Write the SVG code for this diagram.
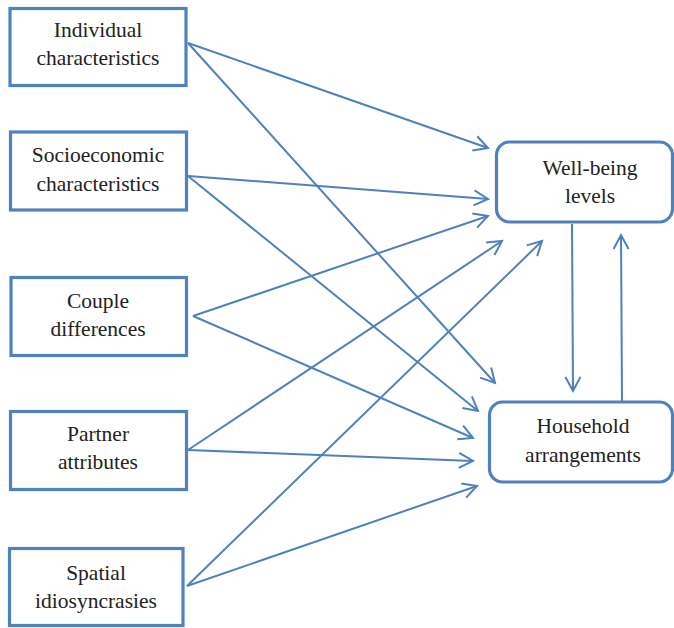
<svg xmlns="http://www.w3.org/2000/svg" width="674" height="628" viewBox="0 0 674 628">
<defs>
<style>
.box{fill:#fff;stroke:#4F81BD;stroke-width:3.2}
.t{font-family:'Liberation Serif','Times New Roman','DejaVu Serif',serif;font-size:21.5px;fill:#222;text-anchor:middle}
.c{stroke:#4F81BD;stroke-width:2;fill:none;marker-end:url(#ah)}
</style>
<marker id="ah" markerUnits="userSpaceOnUse" markerWidth="20" markerHeight="20" viewBox="-16 -10 20 20" refX="0" refY="0" orient="auto">
<path d="M-14,-7.5 L0,0 L-14,7.5" fill="none" stroke="#4F81BD" stroke-width="2"/>
</marker>
</defs>
<rect width="674" height="628" fill="#fff"/>
<g id="connectors">
<line class="c" x1="188" y1="43" x2="488" y2="148"/>
<line class="c" x1="188" y1="43" x2="495" y2="383"/>
<line class="c" x1="188" y1="176" x2="488" y2="199"/>
<line class="c" x1="188" y1="176" x2="478" y2="411"/>
<line class="c" x1="193" y1="316" x2="488" y2="216"/>
<line class="c" x1="193" y1="316" x2="473" y2="438"/>
<line class="c" x1="188" y1="450" x2="502" y2="241"/>
<line class="c" x1="188" y1="450" x2="473" y2="461"/>
<line class="c" x1="187" y1="586" x2="542" y2="241"/>
<line class="c" x1="187" y1="586" x2="477" y2="486"/>
<line class="c" x1="572" y1="224" x2="573" y2="391"/>
<line class="c" x1="622" y1="401" x2="621" y2="235"/>
</g>
<g id="individual">
<rect class="box" x="10" y="8.5" width="176" height="77"/>
<text class="t" x="98" y="37">Individual</text>
<text class="t" x="98" y="65">characteristics</text>
</g>
<g id="socioeconomic">
<rect class="box" x="10.5" y="132" width="176" height="78"/>
<text class="t" x="98" y="162">Socioeconomic</text>
<text class="t" x="98" y="191">characteristics</text>
</g>
<g id="couple">
<rect class="box" x="11" y="277.5" width="175.5" height="78"/>
<text class="t" x="98" y="308">Couple</text>
<text class="t" x="98" y="336">differences</text>
</g>
<g id="partner">
<rect class="box" x="10.5" y="411.5" width="176" height="78"/>
<text class="t" x="98" y="441">Partner</text>
<text class="t" x="98" y="469">attributes</text>
</g>
<g id="spatial">
<rect class="box" x="9.5" y="548.5" width="173.5" height="77"/>
<text class="t" x="96" y="580">Spatial</text>
<text class="t" x="96" y="608">idiosyncrasies</text>
</g>
<g id="wellbeing">
<rect class="box" x="496.5" y="142" width="176" height="80" rx="13"/>
<text class="t" x="590" y="175">Well-being</text>
<text class="t" x="590" y="203">levels</text>
</g>
<g id="household">
<rect class="box" x="489.5" y="402" width="183" height="80" rx="13"/>
<text class="t" x="583" y="433">Household</text>
<text class="t" x="583" y="462">arrangements</text>
</g>
</svg>
